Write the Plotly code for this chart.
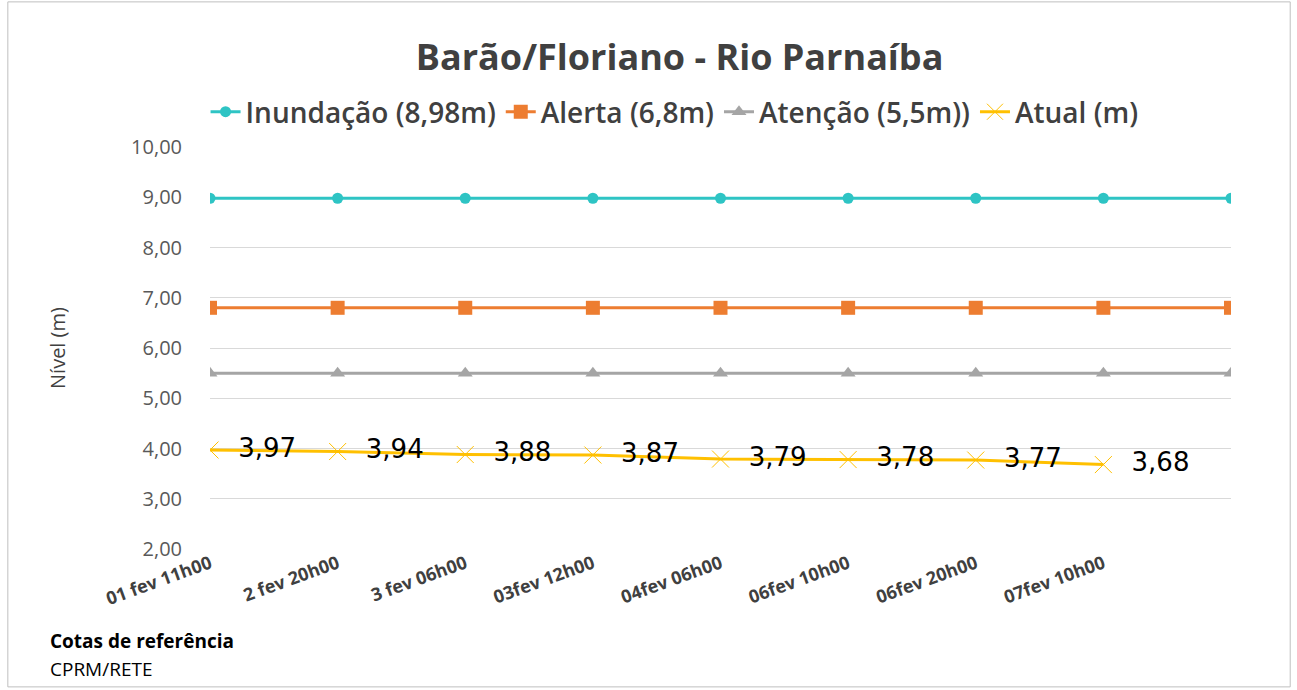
import plotly.graph_objects as go

# categorias do eixo x (a ultima fica sem rotulo)
categorias = ["01 fev 11h00", "2 fev 20h00", "3 fev 06h00", "03fev 12h00",
              "04fev 06h00", "06fev 10h00", "06fev 20h00", "07fev 10h00", " "]

inundacao = [8.98] * 9
alerta = [6.8] * 9
atencao = [5.5] * 9
atual = [3.97, 3.94, 3.88, 3.87, 3.79, 3.78, 3.77, 3.68]

fonte = "Open Sans"
cinza = "#404040"

fig = go.Figure()

fig.add_trace(go.Scatter(
    x=categorias, y=inundacao, name="Inundação (8,98m)", mode="lines+markers",
    line=dict(color="#2EC4C4", width=3),
    marker=dict(symbol="circle", size=11, color="#2EC4C4")
))
fig.add_trace(go.Scatter(
    x=categorias, y=alerta, name="Alerta (6,8m)", mode="lines+markers",
    line=dict(color="#ED7D31", width=3),
    marker=dict(symbol="square", size=14, color="#ED7D31")
))
fig.add_trace(go.Scatter(
    x=categorias, y=atencao, name="Atenção (5,5m))", mode="lines+markers",
    line=dict(color="#A5A5A5", width=3),
    marker=dict(symbol="triangle-up", size=13, color="#A5A5A5")
))
fig.add_trace(go.Scatter(
    x=categorias[:len(atual)], y=atual, name="Atual (m)", mode="lines+markers+text",
    line=dict(color="#FFC000", width=3),
    marker=dict(symbol="x-thin-open", size=17, line=dict(color="#FFC000", width=1)),
    text=["  " + f"{v:.2f}".replace(".", ",") for v in atual],
    textposition="middle right",
    textfont=dict(family="DejaVu Sans", size=26, color="black")
))

fig.update_layout(
    width=1297, height=690,
    margin=dict(l=210, r=66, t=147, b=141),
    paper_bgcolor="white", plot_bgcolor="white",
    separators=",.",
    title=dict(text="<b>Barão/Floriano - Rio Parnaíba</b>", x=0.524, xanchor="center",
               y=0.917, yanchor="middle",
               font=dict(family=fonte, size=36, color=cinza)),
    legend=dict(orientation="h", x=0.455, xanchor="center", y=1.087, yanchor="middle",
                font=dict(family=fonte, size=28, color=cinza, weight=600),
                tracegroupgap=0),
    showlegend=True,
    xaxis=dict(type="category", range=[0, 8], tickangle=-20, showgrid=False,
               showline=False, ticks="", zeroline=False,
               tickfont=dict(family=fonte, size=18, color=cinza, weight="bold")),
    yaxis=dict(range=[2, 10], dtick=1, tickformat=".2f", showgrid=True,
               gridcolor="#D9D9D9", gridwidth=1, zeroline=False, showline=False,
               ticks="", ticklabelstandoff=27,
               tickfont=dict(family=fonte, size=20, color="#595959"),
               title=dict(text="Nível (m)", standoff=60,
                          font=dict(family=fonte, size=20, color=cinza))),
)

fig.add_annotation(text="<b>Cotas de referência</b>", xref="paper", yref="paper",
                   x=-0.159, y=-0.228, xanchor="left", yanchor="middle", showarrow=False,
                   font=dict(family=fonte, size=19, color="black"))
fig.add_annotation(text="CPRM/RETE", xref="paper", yref="paper",
                   x=-0.159, y=-0.298, xanchor="left", yanchor="middle", showarrow=False,
                   font=dict(family=fonte, size=19, color="black"))

# moldura do grafico
fig.add_shape(type="rect", xref="paper", yref="paper",
              x0=-0.198, x1=1.058, y0=-0.343, y1=1.361,
              line=dict(color="#BFBFBF", width=1))

fig.write_html("out.html", config={"displayModeBar": False},
               post_script="document.body.style.margin='0';")
